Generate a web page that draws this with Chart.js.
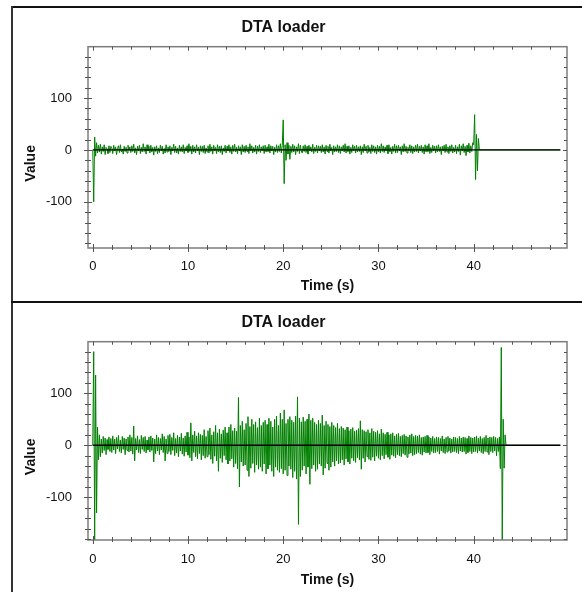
<!DOCTYPE html>
<html>
<head>
<meta charset="utf-8">
<script src="https://cdn.jsdelivr.net/npm/chart.js@4.4.0/dist/chart.umd.min.js"></script>
<style>
  html, body { margin: 0; padding: 0; background: #fff; }
  body { width: 582px; height: 592px; position: relative; overflow: hidden; }
  canvas { position: absolute; left: 0; }
  #c1 { top: 0; }
  #c2 { top: 300px; }
  .rule { position: absolute; }
</style>
</head>
<body>
<canvas id="c1" width="582" height="300"></canvas>
<canvas id="c2" width="582" height="292"></canvas>
<div class="rule" style="left:12px;top:6px;width:570px;height:2px;background:#111"></div>
<div class="rule" style="left:11px;top:6px;width:2px;height:586px;background:#333"></div>
<div class="rule" style="left:11px;top:301px;width:571px;height:2px;background:#111"></div>
<script>
/* DTA loader — two time traces, samples every 0.1 s. */
const sampleStep = 0.1;
const traceEnd = 49.1;            // flat tail after the recording stops

const topValues = [
  0,-100,25,-12,14,-6,9,-4,11,-8,6,-3,10,-9,5,2,-7,8,-5,7,
  4,-7,9,-2,6,-9,3,8,-5,10,-4,2,-8,7,-3,5,-6,9,-1,6,
  -5,8,-3,11,-6,4,-9,7,-2,9,-7,5,-4,12,-3,6,-8,10,-2,7,
  -6,9,-4,5,-10,6,-3,8,-7,4,-5,9,-2,7,-8,3,-6,10,-4,6,
  -3,8,-9,5,-2,11,-5,7,-6,4,-8,9,-3,6,-4,10,-7,5,-2,8,
  -5,12,-3,7,-8,9,-4,6,-6,10,-2,5,-9,8,-3,7,-5,9,-7,4,
  -4,8,-6,11,-3,6,-8,9,-2,5,-7,10,-4,7,-5,8,-9,4,-3,9,
  -6,7,-2,10,-5,6,-8,9,-3,11,-4,5,-7,8,-2,6,-9,10,-4,7,
  -5,9,-3,6,-7,12,-2,8,-6,5,-4,9,-8,7,-3,10,-5,6,-2,8,
  -7,9,-4,6,-3,11,-6,8,-2,7,-9,5,-4,10,-5,8,-3,12,-6,9,
  58,-65,10,-20,14,-8,9,-18,7,-5,11,-4,8,-9,6,-3,12,-7,9,-2,
  -6,8,-3,10,-5,7,-8,9,-2,6,-4,11,-7,5,-3,9,-6,8,-2,7,
  -5,10,-4,6,-8,9,-3,7,-6,11,-2,5,-9,8,-4,6,-3,10,-5,8,
  -7,6,-2,9,-4,12,-6,7,-3,8,-8,5,-5,10,-2,7,-6,9,-4,6,
  -3,8,-9,6,-5,11,-2,7,-6,9,-4,5,-7,10,-3,8,-5,6,-8,9,
  -4,7,-6,12,-3,8,-5,6,-2,9,-7,10,-4,5,-8,7,-3,11,-6,8,
  -5,9,-2,6,-9,8,-4,12,-3,7,-6,5,-2,10,-5,8,-7,6,-4,9,
  -3,11,-6,7,-2,9,-5,6,-8,10,-4,8,-3,12,-7,5,-5,9,-2,7,
  -6,8,-4,10,-3,6,-9,7,-2,9,-5,11,-4,6,-7,8,-3,10,-6,5,
  -4,9,-7,6,-3,11,-10,8,-2,12,-5,7,-11,9,-4,13,-6,8,-3,14,
  10,68,-57,30,-40,22,0
];

const bottomValues = [
  0,180,-182,135,-130,35,-28,20,-22,12,-15,17,-10,14,-18,11,-8,16,-12,13,
  -14,18,-9,12,-16,15,-7,19,-12,10,-15,17,-8,14,-18,12,-10,16,-13,20,
  -11,15,-17,37,-30,13,-9,18,-14,11,-16,19,-8,15,-12,17,-15,10,-9,16,
  -13,18,-10,14,-32,12,-16,20,-11,15,-18,13,-9,22,-14,17,-30,12,-16,19,
  -12,21,-18,15,-10,24,-20,13,-15,19,-22,16,-11,23,-17,14,-21,18,-13,25,
  -19,16,-24,43,-30,20,-14,27,-22,18,-26,24,-16,21,-28,19,-20,30,-25,17,
  -22,28,-18,33,-27,20,-35,26,-21,38,-30,24,-50,31,-25,22,-33,29,-20,35,
  -28,24,-36,35,-30,40,-26,28,-42,33,-35,27,-45,92,-80,38,-32,46,-40,30,
  -38,42,-48,55,-60,36,-44,50,-35,40,-52,45,-38,34,-46,52,-42,38,-50,44,
  -36,48,-55,40,-45,52,-38,46,-50,35,-60,50,-42,56,-48,38,-52,62,-45,50,
  -55,68,-48,42,-58,50,-40,55,-46,48,-62,44,-50,56,-65,93,-152,52,-60,45,
  -48,54,-40,46,-55,50,-42,60,-75,48,-45,52,-38,44,-50,40,-46,48,-36,42,
  -40,58,-57,38,-44,46,-35,40,-48,36,-42,44,-32,38,-40,34,-30,42,-36,32,
  -34,36,-28,33,-38,30,-26,35,-32,28,-36,31,-25,34,-30,27,-33,29,-24,32,
  -28,47,-46,30,-25,28,-32,26,-22,30,-27,24,-29,32,-23,27,-30,25,-21,28,
  -25,22,-28,31,-20,24,-26,21,-18,25,-23,20,-27,22,-19,24,-21,18,-24,21,
  -18,23,-20,17,-22,19,-16,21,-19,18,-23,16,-17,20,-15,22,-20,17,-18,19,
  -16,18,-14,20,-17,15,-19,16,-13,17,-15,19,-14,16,-18,14,-12,17,-15,13,
  -14,16,-12,15,-17,13,-11,18,-14,12,-16,15,-13,17,-11,14,-15,12,-13,16,
  -12,15,-14,13,-16,17,-11,14,-13,16,-12,15,-17,13,-14,18,-12,15,-16,14,
  -13,16,-12,18,-15,14,-11,17,-14,13,-16,15,-12,19,-13,14,-18,16,-12,15,
  -14,17,-11,15,-20,13,-12,16,-45,188,-182,50,-44,20,0
];

const xMajor = [0, 10, 20, 30, 40];
const xMinor = [2, 4, 6, 8, 12, 14, 16, 18, 22, 24, 26, 28, 32, 34, 36, 38, 42, 44, 46, 48];
const yMajor = [-100, 0, 100];
const yMinor = [-180, -160, -140, -120, -80, -60, -40, -20, 20, 40, 60, 80, 120, 140, 160, 180];

const FONT = "'Liberation Sans', Arial, sans-serif";
const AXIS = "#7d7d7d";

function toPoints(vals) {
  const pts = vals.map((v, i) => ({ x: +(i * sampleStep).toFixed(2), y: v }));
  pts.push({ x: traceEnd, y: 0 });
  return pts;
}

// Frame, crossing ticks on the left/bottom, inner ticks on top/right, rotated y title.
const frameTicks = {
  id: "frameTicks",
  afterDatasetsDraw(chart, args, opts) {
    const { ctx, chartArea: a, scales: { x, y } } = chart;
    ctx.save();
    ctx.strokeStyle = AXIS;
    ctx.lineWidth = 1.5;
    ctx.strokeRect(a.left, a.top, a.right - a.left, a.bottom - a.top);
    ctx.lineWidth = 1;
    ctx.strokeStyle = "#555";
    ctx.beginPath();
    const xt = (v, big) => {
      const px = Math.round(x.getPixelForValue(v)) + 0.5;
      ctx.moveTo(px, a.bottom - (big ? 4 : 3)); ctx.lineTo(px, a.bottom + (big ? 4 : 2));
      ctx.moveTo(px, a.top); ctx.lineTo(px, a.top + (big ? 4 : 3));
    };
    const yt = (v, big) => {
      const py = Math.round(y.getPixelForValue(v)) + 0.5;
      ctx.moveTo(a.left - (big ? 4 : 3), py); ctx.lineTo(a.left + (big ? 4 : 3), py);
      ctx.moveTo(a.right, py); ctx.lineTo(a.right - (big ? 4 : 3), py);
    };
    xMajor.forEach(v => xt(v, true));
    xMinor.forEach(v => xt(v, false));
    yMajor.forEach(v => yt(v, true));
    yMinor.forEach(v => yt(v, false));
    ctx.stroke();

    ctx.fillStyle = "#111";
    ctx.font = "bold 14px " + FONT;
    ctx.textAlign = "center";
    ctx.textBaseline = "middle";
    ctx.translate(31, (a.top + a.bottom) / 2 + 16);
    ctx.rotate(-Math.PI / 2);
    ctx.fillText("Value", 0, 0);
    ctx.restore();
  }
};

function makeChart(id, values, yMin, titlePad, xLabelPad, xTitlePad) {
  return new Chart(document.getElementById(id), {
    type: "line",
    data: {
      datasets: [
        {
          label: "zero",
          data: [{ x: 0, y: 0 }, { x: traceEnd, y: 0 }],
          borderColor: "#000", borderWidth: 1.3, pointRadius: 0
        },
        {
          label: "DTA",
          data: toPoints(values),
          borderColor: "#008000", borderWidth: 1, pointRadius: 0, tension: 0
        }
      ]
    },
    options: {
      responsive: false,
      devicePixelRatio: 1,
      animation: false,
      events: [],
      layout: { padding: { left: 0, right: 15, top: 0, bottom: 0 } },
      plugins: {
        legend: { display: false },
        tooltip: { enabled: false },
        title: {
          display: true, text: "DTA loader", color: "#111",
          font: { family: FONT, size: 16, weight: "bold" },
          padding: titlePad
        }
      },
      scales: {
        x: {
          type: "linear", min: -0.5, max: 49.8,
          afterBuildTicks: s => { s.ticks = xMajor.map(v => ({ value: v })); },
          afterFit: s => { s.height = 52; },
          grid: { display: false, drawTicks: false },
          border: { display: false },
          ticks: { color: "#111", padding: xLabelPad, maxRotation: 0, font: { family: FONT, size: 13 } },
          title: {
            display: true, text: "Time (s)", color: "#111",
            font: { family: FONT, size: 14, weight: "bold" },
            padding: { top: 0, bottom: xTitlePad }
          }
        },
        y: {
          min: yMin, max: 199,
          afterBuildTicks: s => { s.ticks = yMajor.map(v => ({ value: v })); },
          afterFit: s => { s.width = 88; },
          grid: { display: false, drawTicks: false },
          border: { display: false },
          ticks: { color: "#111", padding: 16, font: { family: FONT, size: 13 } }
        }
      }
    },
    plugins: [frameTicks]
  });
}

makeChart("c1", topValues, -189, { top: 18, bottom: 9.5 }, 10.5, 5);
makeChart("c2", bottomValues, -182, { top: 12.6, bottom: 9.9 }, 12, 3.6);
</script>
</body>
</html>
